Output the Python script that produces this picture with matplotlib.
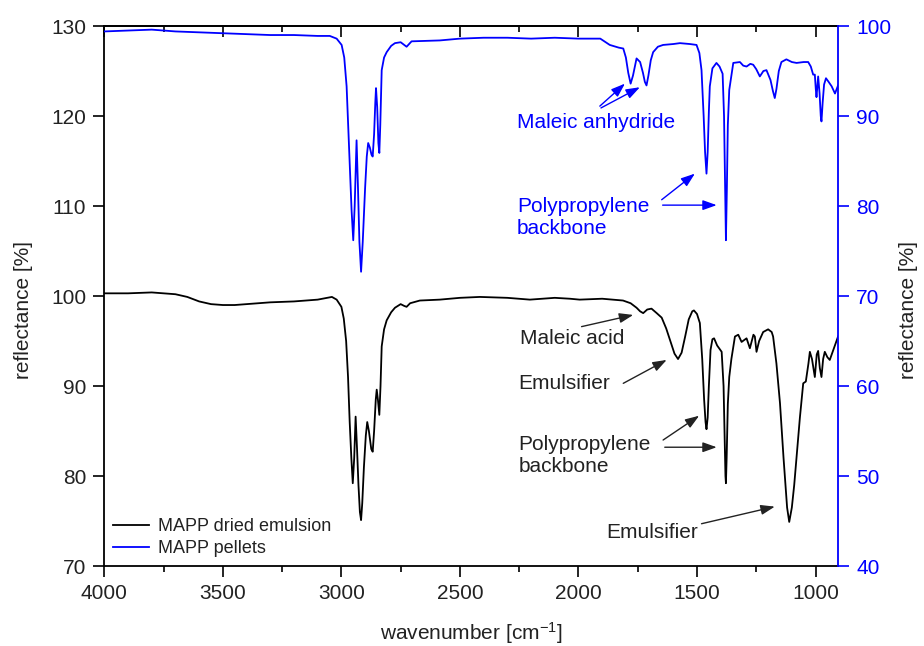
import matplotlib
matplotlib.use("Agg")
import matplotlib.pyplot as plt
from matplotlib.ticker import MultipleLocator

plt.rcParams["font.family"] = ["Liberation Sans", "DejaVu Sans"]
plt.rcParams["mathtext.fontset"] = "custom"
plt.rcParams["mathtext.rm"] = "Liberation Sans"
plt.rcParams["mathtext.it"] = "Liberation Sans:italic"

# FTIR spectrum of the dried MAPP emulsion (left axis)
emulsion_wn = [
    4000, 3900, 3800, 3700, 3650, 3600, 3550, 3500, 3450, 3400, 3300, 3200,
    3100, 3060, 3040, 3020, 3000, 2990, 2980, 2972, 2965, 2958, 2952, 2946,
    2940, 2934, 2928, 2922, 2917, 2912, 2905, 2897, 2891, 2884, 2874, 2868,
    2862, 2855, 2851, 2846, 2840, 2835, 2830, 2820, 2809, 2790, 2774, 2750,
    2735, 2725, 2710, 2669, 2585, 2500, 2416, 2300, 2205, 2100, 2036, 1995,
    1900, 1812, 1780, 1755, 1740, 1727, 1710, 1692, 1670, 1649, 1630, 1610,
    1595, 1580, 1565, 1550, 1535, 1520, 1513, 1500, 1488, 1478, 1470, 1464,
    1460, 1455, 1450, 1443, 1435, 1428, 1415, 1396, 1388, 1383, 1380, 1378,
    1375, 1370, 1364, 1355, 1340, 1326, 1312, 1291, 1277, 1262, 1256, 1249,
    1238, 1221, 1200, 1185, 1179, 1165, 1150, 1135, 1120, 1111, 1100, 1090,
    1080, 1066, 1052, 1041, 1030, 1024, 1015, 1003, 995, 989, 982, 975,
    968, 961, 950, 940, 925, 905,
]
emulsion_refl = [
    100.3, 100.3, 100.4, 100.2, 99.9, 99.4, 99.1, 99.0, 99.0, 99.1, 99.3, 99.4,
    99.6, 99.8, 99.9, 99.6, 98.8, 97.5, 95.0, 91.0, 86.0, 82.0, 79.2, 82.0,
    86.6, 83.0, 79.0, 76.0, 75.1, 77.0, 81.0, 84.5, 86.0, 85.0, 83.0, 82.7,
    85.0, 88.5, 89.6, 88.5, 86.8, 90.0, 94.4, 96.3, 97.3, 98.2, 98.7, 99.1,
    98.9, 98.8, 99.2, 99.5, 99.6, 99.8, 99.9, 99.8, 99.6, 99.8, 99.7, 99.6,
    99.7, 99.5, 99.2, 98.7, 98.3, 98.1, 98.5, 98.6, 98.1, 97.6, 96.4, 94.8,
    93.6, 93.0, 93.7, 95.5, 97.4, 98.3, 98.4, 98.0, 97.0, 93.0, 88.5, 86.0,
    85.2, 86.5, 90.0, 94.0, 95.2, 95.3, 94.5, 93.8, 90.0, 84.0, 80.0, 79.2,
    82.0, 88.0, 91.0, 93.0, 95.5, 95.7, 94.9, 95.3, 94.2, 95.7, 95.5, 93.8,
    95.0, 96.0, 96.3, 96.0, 95.5, 92.5, 88.1, 82.0, 76.5, 74.9, 76.5, 79.0,
    82.1, 86.5, 90.3, 90.5, 92.5, 93.8, 93.0, 91.0, 93.5, 93.9, 92.0, 91.0,
    93.0, 93.8, 93.2, 92.9, 94.0, 95.5,
]

# FTIR spectrum of the MAPP pellets (right axis)
pellet_wn = [
    4000, 3900, 3800, 3700, 3600, 3500, 3400, 3300, 3200, 3100, 3049, 3020,
    2999, 2988, 2978, 2970, 2964, 2957, 2950, 2944, 2936, 2930, 2924, 2917,
    2910, 2900, 2893, 2887, 2880, 2873, 2868, 2862, 2857, 2854, 2849, 2844,
    2840, 2836, 2830, 2820, 2809, 2790, 2774, 2750, 2735, 2725, 2704, 2585,
    2500, 2400, 2300, 2200, 2100, 2000, 1908, 1868, 1830, 1811, 1800, 1790,
    1780, 1770, 1755, 1740, 1728, 1720, 1713, 1705, 1695, 1685, 1665, 1643,
    1600, 1572, 1530, 1502, 1490, 1481, 1472, 1466, 1460, 1455, 1450, 1446,
    1435, 1418, 1405, 1392, 1386, 1382, 1378, 1374, 1370, 1364, 1355, 1347,
    1319, 1305, 1291, 1275, 1263, 1250, 1235, 1220, 1207, 1190, 1180, 1172,
    1165, 1155, 1144, 1123, 1100, 1080, 1050, 1031, 1020, 1010, 1003, 999,
    996, 992, 989, 983, 978, 975, 970, 964, 956, 945, 932, 918, 905,
]
pellet_refl = [
    99.4, 99.5, 99.6, 99.4, 99.3, 99.2, 99.1, 99.0, 99.0, 98.9, 98.9, 98.6,
    97.9, 96.5, 93.3, 88.0, 84.0, 79.5, 76.2, 80.0, 87.3, 82.0, 76.0, 72.7,
    76.0, 82.0, 85.5, 87.0, 86.5, 85.7, 85.5, 88.0, 91.5, 93.1, 91.0, 87.0,
    85.9, 89.0, 95.1, 96.5, 97.1, 97.8, 98.1, 98.2, 97.9, 97.7, 98.3, 98.4,
    98.6, 98.7, 98.7, 98.6, 98.7, 98.6, 98.6, 97.9, 97.6, 97.5, 96.5, 94.8,
    93.6, 94.5, 96.4, 96.0, 94.8, 93.8, 93.4, 94.5, 96.2, 97.1, 97.7, 97.9,
    98.0, 98.1, 98.0, 97.9, 97.0, 95.1, 90.0, 86.0, 83.6, 86.0, 90.5, 93.3,
    95.3, 95.9, 95.5, 94.7, 90.0, 83.0, 76.2, 82.0, 89.0, 92.9, 94.5, 95.9,
    96.0, 95.6, 95.5, 95.8, 95.7, 95.2, 94.4, 95.0, 95.1, 94.0, 92.8, 92.0,
    93.0, 95.0, 96.0, 96.3, 96.0, 95.9, 96.0, 96.0, 95.5, 94.6, 94.6, 93.0,
    92.1, 93.5, 94.4, 92.5, 90.0, 89.4, 91.5, 93.5, 94.2, 93.8, 93.3, 92.5, 93.4,
]

# band assignments: (label, text position, [(arrow tail, arrow head), ...])
pellet_notes = [
    ("Maleic anhydride", (1926, 119.3),
     [((1910, 121.1), (1804, 123.6)), ((1905, 120.9), (1741, 123.2))]),
    ("Polypropylene\nbackbone", (2260, 108.7),
     [((1649, 110.7), (1509, 113.6)), ((1645, 110.1), (1417, 110.1))]),
]
emulsion_notes = [
    ("Maleic acid", (2247, 95.3), [((1987, 96.6), (1769, 97.9))]),
    ("Emulsifier", (2252, 90.3), [((1811, 90.3), (1628, 92.9))]),
    ("Polypropylene\nbackbone", (2252, 82.3),
     [((1643, 84.0), (1491, 86.7)), ((1636, 83.2), (1417, 83.2))]),
    ("Emulsifier", (1881, 73.7), [((1481, 74.7), (1172, 76.6))]),
]

BLUE = "#0000ff"
INK = "#222222"

fig = plt.figure(figsize=(9.24, 6.46), dpi=100)
ax = fig.add_axes([0.1129, 0.1238, 0.7941, 0.8359])
ax2 = ax.twinx()

l1, = ax.plot(emulsion_wn, emulsion_refl, color="black", lw=1.3,
              label="MAPP dried emulsion")
l2, = ax2.plot(pellet_wn, pellet_refl, color=BLUE, lw=1.3, label="MAPP pellets")

ax.set_xlim(4000, 905)
ax.set_ylim(70, 130)
ax2.set_ylim(40, 100)

ax.xaxis.set_major_locator(MultipleLocator(500))
ax.xaxis.set_minor_locator(MultipleLocator(250))
ax.yaxis.set_major_locator(MultipleLocator(10))
ax2.yaxis.set_major_locator(MultipleLocator(10))

ax.tick_params(axis="x", which="major", direction="out", length=8, width=1.2,
               labelsize=15, pad=5, labelcolor=INK)
ax.tick_params(axis="x", which="minor", direction="out", length=4, width=1.2)
ax.tick_params(axis="y", direction="out", length=8, width=1.2,
               labelsize=15, pad=5, labelcolor=INK)
ax2.tick_params(axis="y", direction="out", length=8, width=1.2,
                labelsize=15, pad=5, colors=BLUE)

# top axis carries inward ticks only
top = ax.secondary_xaxis("top")
top.xaxis.set_major_locator(MultipleLocator(500))
top.xaxis.set_minor_locator(MultipleLocator(250))
top.tick_params(which="major", direction="in", length=8, width=1.2, labeltop=False)
top.tick_params(which="minor", direction="in", length=4, width=1.2)
top.spines["top"].set_linewidth(1.3)

for side in ("left", "bottom", "top"):
    ax.spines[side].set_linewidth(1.3)
    ax2.spines[side].set_visible(False)
ax.spines["right"].set_visible(False)
ax2.spines["right"].set_color(BLUE)
ax2.spines["right"].set_linewidth(1.3)

ax.set_xlabel("wavenumber [cm$^{-1}$]", fontsize=15, color=INK, labelpad=12)
ax.set_ylabel("reflectance [%]", fontsize=15, color=INK)
ax2.set_ylabel("reflectance [%]", fontsize=15, color=INK)
ax.yaxis.set_label_coords(-0.097, 0.474)
ax2.yaxis.set_label_coords(1.083, 0.474)

arrow_kw = dict(arrowstyle="-|>,head_length=0.7,head_width=0.25",
                shrinkA=0, shrinkB=0, lw=1.0, mutation_scale=12)
for notes, color in ((pellet_notes, BLUE), (emulsion_notes, INK)):
    for label, (tx, ty), arrows in notes:
        ha = "center" if label == "Maleic anhydride" else "left"
        ax.text(tx, ty, label, fontsize=15, color=color, ha=ha, va="center",
                linespacing=1.2)
        for tail, head in arrows:
            ax.annotate("", xy=head, xytext=tail,
                        arrowprops=dict(color=color, **arrow_kw))

ax.legend([l1, l2], [l1.get_label(), l2.get_label()], loc="lower left",
          frameon=False, fontsize=13, handlelength=2.0, borderaxespad=0.3,
          borderpad=0.2, labelspacing=0.25, handletextpad=0.45, labelcolor=INK)

fig.savefig("out.png", dpi=100)
